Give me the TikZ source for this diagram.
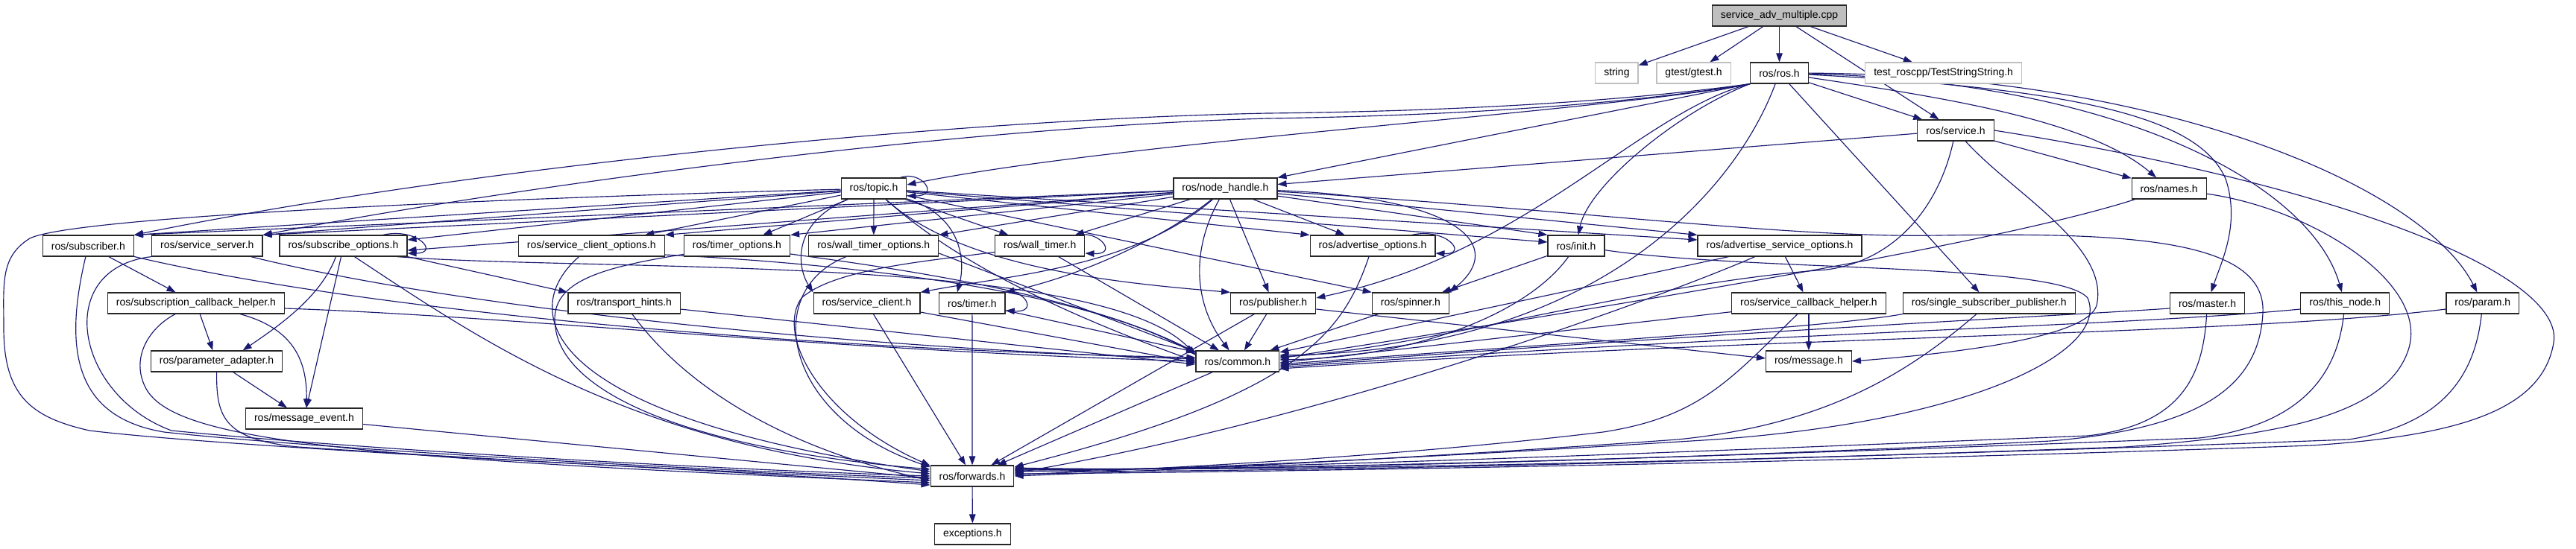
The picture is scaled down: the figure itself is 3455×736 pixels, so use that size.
\documentclass[tikz,border=0pt]{standalone}
\usepackage{fontspec}
\setmainfont{Liberation Sans}
\usetikzlibrary{arrows.meta}
\definecolor{edgec}{RGB}{25,25,112}
\definecolor{greyss}{RGB}{191,191,191}
\pgfdeclarelayer{bg}
\pgfsetlayers{bg,main}
\begin{document}
\begin{tikzpicture}[x=1pt,y=-1pt,
  box/.style={draw=black!85, line width=1.2pt, fill=white, rectangle, minimum height=28pt,
    inner xsep=11.5pt, inner ysep=0pt, font=\fontsize{14}{16}\selectfont, text=black},
  gbox/.style={box, draw=greyss},
  e/.style={draw=edgec, line width=1.15pt, -{Triangle[length=12pt,width=8.5pt]}}]
\useasboundingbox (0,0) rectangle (3455,736);
% ---------------- nodes
\node[box,fill=greyss] (cpp) at (2386.5,21) {service\_adv\_multiple.cpp};
\node[gbox] (str) at (2168.4,98) {string};
\node[gbox] (gtest) at (2271.6,98) {gtest/gtest.h};
\node[box] (ros) at (2386.5,98) {ros/ros.h};
\node[gbox] (test) at (2606.6,98) {test\_roscpp/TestStringString.h};
\node[box] (service) at (2623,175) {ros/service.h};
\node[box] (topic) at (1172,253) {ros/topic.h};
\node[box] (nh) at (1643.4,253) {ros/node\_handle.h};
\node[box] (names) at (2909.2,253) {ros/names.h};
\node[box] (sub) at (118.4,330) {ros/subscriber.h};
\node[box] (ssrv) at (277.8,330) {ros/service\_server.h};
\node[box] (subopt) at (460.5,330) {ros/subscribe\_options.h};
\node[box] (scopt) at (793.3,330) {ros/service\_client\_options.h};
\node[box] (topt) at (988.5,330) {ros/timer\_options.h};
\node[box] (wtopt) at (1171.8,330) {ros/wall\_timer\_options.h};
\node[box] (wtimer) at (1394.7,330) {ros/wall\_timer.h};
\node[box] (advopt) at (1841,330) {ros/advertise\_options.h};
\node[box] (init) at (2114,330) {ros/init.h};
\node[box] (asopt) at (2387,330) {ros/advertise\_service\_options.h};
\node[box] (scbh) at (263,407) {ros/subscription\_callback\_helper.h};
\node[box] (thints) at (837.2,407) {ros/transport\_hints.h};
\node[box] (sclient) at (1162.5,407) {ros/service\_client.h};
\node[box] (timer) at (1303.9,407) {ros/timer.h};
\node[box] (pub) at (1707.7,407) {ros/publisher.h};
\node[box] (spin) at (1891.9,407) {ros/spinner.h};
\node[box] (svcbh) at (2425.9,407) {ros/service\_callback\_helper.h};
\node[box] (ssp) at (2667.8,407) {ros/single\_subscriber\_publisher.h};
\node[box] (master) at (2960.5,407) {ros/master.h};
\node[box] (thisnode) at (3145.2,407) {ros/this\_node.h};
\node[box] (param) at (3329.8,407) {ros/param.h};
\node[box] (padapt) at (290.6,485) {ros/parameter\_adapter.h};
\node[box] (common) at (1659.9,485) {ros/common.h};
\node[box] (msg) at (2425.9,485) {ros/message.h};
\node[box] (mevent) at (408,562) {ros/message\_event.h};
\node[box] (fwd) at (1304,639) {ros/forwards.h};
\node[box] (exc) at (1304.4,717) {exceptions.h};
% ---------------- edges
\begin{pgfonlayer}{bg}
\fill[white] (0,0) rectangle (3455,736);
% root
\draw[e] (cpp) -- (str);
\draw[e] (cpp) -- (gtest);
\draw[e] (cpp) -- (ros);
\draw[e] (cpp) -- (test);
\draw[e] (cpp) -- (service);
% ros.h
\draw[e] (ros.south west) .. controls (2150,140) and (1900,150) .. (1700,152) .. controls (1300,160) and (650,220) .. (sub.north east);
\draw[e] (ros.south west) .. controls (2150,145) and (1900,156) .. (1700,159) .. controls (1300,170) and (720,245) .. (ssrv.north east);
\draw[e] (ros.south west) .. controls (2150,150) and (1500,190) .. ([yshift=5pt]topic.east);
\draw[e] (ros.south west) -- (nh.north east);
\draw[e] (ros.south west) .. controls (2200,150) and (2050,340) .. ([yshift=7pt]pub.east);
\draw[e] (ros.south west) .. controls (2250,150) and (2130,250) .. (init);
\draw[e] (ros) .. controls (2330,250) and (2150,470) .. ([yshift=8pt]common.east);
\draw[e] (ros) -- (ssp);
\draw[e] (ros) -- (service);
\draw[e] (ros) .. controls (2600,130) and (2800,160) .. (names);
\draw[e] (ros) .. controls (2800,120) and (2950,160) .. (2985,240) .. controls (3005,300) and (2980,350) .. (master);
\draw[e] (ros) .. controls (2850,110) and (3100,250) .. (thisnode);
\draw[e] (ros) .. controls (2900,100) and (3250,250) .. (param);
% service.h
\draw[e] (service) -- (nh);
\draw[e] (service) -- (names);
\draw[e] (service) .. controls (2600,280) and (2540,350) .. (2450,362) .. controls (2200,380) and (1900,470) .. ([yshift=6pt]common.east);
\draw[e] (service) .. controls (2700,260) and (2830,330) .. (2812,410) .. controls (2800,450) and (2650,472) .. (msg.east);
\draw[e] (service.east) .. controls (3150,250) and (3440,370) .. (3425,460) .. controls (3410,550) and (3300,585) .. (3100,598) .. controls (2500,620) and (1700,634) .. ([yshift=3pt]fwd.east);
% topic.h
\draw[e] ([xshift=-9pt]topic.north east) .. controls (1235,228) and (1262,263) .. ([yshift=-10pt]topic.east);
\draw[e] (topic) -- (sub.north east);
\draw[e] (topic) -- (ssrv.north east);
\draw[e] (topic) -- ([yshift=8pt]subopt.east);
\draw[e] (topic) -- (scopt);
\draw[e] (topic) -- (topt);
\draw[e] (topic) -- (wtopt);
\draw[e] (topic) -- (wtimer);
\draw[e] (topic) -- (advopt.north west);
\draw[e] (topic) -- ([yshift=5pt]init.west);
\draw[e] (topic) -- ([yshift=8pt]asopt.west);
\draw[e] (topic) .. controls (1060,300) and (1070,360) .. (sclient.north west);
\draw[e] (topic) .. controls (1290,290) and (1295,350) .. ([xshift=-20pt]timer.north);
\draw[e] (topic) .. controls (1290,360) and (1500,380) .. (pub.north west);
\draw[e] (topic) -- (spin.north west);
\draw[e] (topic) .. controls (1290,360) and (1450,430) .. (common.west);
\draw[e] (topic) .. controls (700,265) and (100,290) .. (40,320) .. controls (0,345) and (5,380) .. (5,440) .. controls (5,530) and (40,560) .. (120,578) .. controls (300,600) and (900,630) .. ([yshift=-6pt]fwd.west);
% node_handle.h
\draw[e] (nh) -- (sub.north east);
\draw[e] (nh) -- (ssrv.north east);
\draw[e] (nh) -- ([yshift=-6pt]subopt.east);
\draw[e] (nh) -- (scopt.north east);
\draw[e] (nh) -- (topt.north east);
\draw[e] (nh) -- (wtopt.north east);
\draw[e] (nh) -- (wtimer);
\draw[e] (nh) -- (advopt);
\draw[e] (nh) -- (init.north west);
\draw[e] (nh) -- (asopt.north west);
\draw[e] (nh) .. controls (1520,360) and (1350,370) .. (sclient.north east);
\draw[e] (nh) .. controls (1560,320) and (1450,370) .. (timer.north east);
\draw[e] (nh) -- (pub);
\draw[e] (nh) .. controls (1960,265) and (2020,330) .. (spin.north east);
\draw[e] (nh) .. controls (1590,350) and (1610,420) .. (common);
\draw[e] (nh) .. controls (2100,280) and (2400,320) .. (2600,316) .. controls (2850,312) and (3040,320) .. (3035,420) .. controls (3030,520) and (2950,575) .. (2750,592) .. controls (2300,615) and (1700,632) .. ([yshift=9pt]fwd.east);
% subscriber / service_server
\draw[e] (sub) -- (scbh);
\draw[e] (sub) .. controls (85,470) and (100,560) .. (220,580) .. controls (400,600) and (900,630) .. ([yshift=-3pt]fwd.west);
\draw[e] (sub) .. controls (500,420) and (1100,470) .. ([yshift=5pt]common.west);
\draw[e] (ssrv.south west) .. controls (70,360) and (100,530) .. (230,578) .. controls (450,600) and (900,628) .. (fwd.west);
\draw[e] (ssrv) .. controls (600,410) and (1100,465) .. ([yshift=3pt]common.west);
% subscribe_options
\draw[e] ([xshift=-33pt]subopt.north east) .. controls (560,305) and (590,340) .. ([yshift=-10pt]subopt.east);
\draw[e] (subopt.south east) -- (thints.north west);
\draw[e] ([xshift=-10pt]subopt.south) .. controls (430,400) and (370,440) .. ([xshift=35pt]padapt.north);
\draw[e] ([xshift=-3pt]subopt.south) -- ([xshift=3pt]mevent.north);
\draw[e] ([xshift=15pt]subopt.south) .. controls (650,460) and (850,600) .. ([yshift=3pt]fwd.west);
\draw[e] ([xshift=-14pt]subopt.south east) .. controls (800,365) and (1480,340) .. ([yshift=8pt]common.west);
% subscription_callback_helper, parameter_adapter, message_event
\draw[e] (scbh) -- (padapt);
\draw[e] ([xshift=59pt]scbh.south) .. controls (390,440) and (412,480) .. ([xshift=3pt]mevent.north);
\draw[e] (scbh) .. controls (200,440) and (175,480) .. (195,520) .. controls (230,590) and (450,615) .. ([yshift=-9pt]fwd.west);
\draw[e] ([yshift=-7pt]scbh.east) .. controls (700,425) and (1100,470) .. (common.west);
\draw[e] (padapt) -- ([xshift=-23pt]mevent.north);
\draw[e] (padapt.south) .. controls (290,560) and (300,590) .. (400,600) .. controls (700,620) and (1000,633) .. ([yshift=-12pt]fwd.west);
\draw[e] (mevent) -- ([yshift=-3pt]fwd.west);
% options and timers
\draw[e] (scopt) .. controls (690,420) and (730,560) .. ([yshift=6pt]fwd.west);
\draw[e] ([yshift=-12pt]scopt.east) .. controls (1150,355) and (1450,390) .. ([yshift=10pt]common.west);
\draw[e] (topt) .. controls (800,360) and (735,380) .. (745,440) .. controls (755,520) and (900,600) .. ([yshift=9pt]fwd.west);
\draw[e] ([yshift=-11pt]topt.east) .. controls (1200,360) and (1450,395) .. ([yshift=12pt]common.west);
\draw[e] (wtopt) .. controls (1020,390) and (1050,560) .. ([yshift=12pt]fwd.west);
\draw[e] ([yshift=-10pt]wtopt.east) -- ([yshift=13pt]common.west);
\draw[e] ([xshift=-8pt]wtimer.north east) .. controls (1475,310) and (1500,342) .. ([yshift=-10pt]wtimer.east);
\draw[e] (wtimer) .. controls (1250,350) and (1120,360) .. (1075,400) .. controls (1040,450) and (1100,560) .. ([yshift=14pt]fwd.west);
\draw[e] (wtimer) -- (common);
% advertise_options
\draw[e] ([xshift=-32pt]advopt.north east) .. controls (1940,305) and (1970,342) .. ([yshift=-10pt]advopt.east);
\draw[e] (advopt) .. controls (1800,450) and (1740,530) .. ([yshift=12pt]fwd.east);
% init
\draw[e] (init) -- (spin);
\draw[e] (init) .. controls (2050,420) and (1900,480) .. ([yshift=2pt]common.east);
\draw[e] (init) .. controls (2350,365) and (2760,352) .. (2800,400) .. controls (2830,470) and (2650,565) .. (2300,590) .. controls (1900,615) and (1600,630) .. ([yshift=6pt]fwd.east);
% advertise_service_options
\draw[e] (asopt) -- (svcbh);
\draw[e] (asopt) .. controls (2250,390) and (1800,560) .. ([yshift=4pt]fwd.east);
\draw[e] (asopt) -- (common);
% row 5 middle
\draw[e] (pub) -- (common);
\draw[e] (pub) -- (fwd);
\draw[e] ([yshift=-8pt]pub.east) -- ([yshift=4pt]msg.west);
\draw[e] (spin) -- (common);
\draw[e] (sclient) -- (fwd);
\draw[e] ([yshift=-12pt]sclient.east) -- ([yshift=-2pt]common.west);
\draw[e] (timer) -- (fwd);
\draw[e] (timer) -- (common);
\draw[e] ([xshift=-4pt]timer.north east) .. controls (1372,385) and (1395,420) .. ([yshift=-10pt]timer.east);
\draw[e] (thints) .. controls (920,520) and (1050,600) .. ([yshift=-6pt]fwd.west);
\draw[e] (thints) -- ([yshift=-4pt]common.west);
% right part
\draw[e] (svcbh) -- (msg);
\draw[e] (svcbh) .. controls (2320,510) and (2280,560) .. (2150,580) .. controls (1900,610) and (1600,628) .. ([yshift=2pt]fwd.east);
\draw[e] (svcbh) -- ([yshift=-2pt]common.east);
\draw[e] (ssp) .. controls (2560,500) and (2450,570) .. (2250,590) .. controls (1900,615) and (1600,630) .. (fwd.east);
\draw[e] (ssp.south west) .. controls (2450,440) and (2100,460) .. ([yshift=-4pt]common.east);
\draw[e] ([yshift=-7pt]master.west) .. controls (2750,425) and (2400,440) .. ([yshift=-6pt]common.east);
\draw[e] (master) .. controls (2955,500) and (2930,570) .. (2800,585) .. controls (2300,605) and (1700,630) .. ([yshift=8pt]fwd.east);
\draw[e] ([yshift=-8pt]thisnode.west) .. controls (2850,438) and (2400,445) .. ([yshift=-8pt]common.east);
\draw[e] (thisnode) .. controls (3135,500) and (3090,570) .. (2950,588) .. controls (2400,610) and (1700,633) .. ([yshift=10pt]fwd.east);
\draw[e] ([yshift=-8pt]param.west) .. controls (3000,450) and (2400,450) .. ([yshift=-10pt]common.east);
\draw[e] (param) .. controls (3320,500) and (3280,570) .. (3150,590) .. controls (2500,615) and (1700,635) .. ([yshift=11pt]fwd.east);
\draw[e] (names) .. controls (2700,320) and (2300,390) .. ([yshift=4pt]common.east);
\draw[e] (names) .. controls (3100,280) and (3260,380) .. (3230,470) .. controls (3200,560) and (3050,585) .. (2850,600) .. controls (2300,620) and (1700,635) .. ([yshift=7pt]fwd.east);
% bottom
\draw[e] (common) -- (fwd);
\draw[e] (fwd) -- (exc);
\end{pgfonlayer}
\end{tikzpicture}
\end{document}
